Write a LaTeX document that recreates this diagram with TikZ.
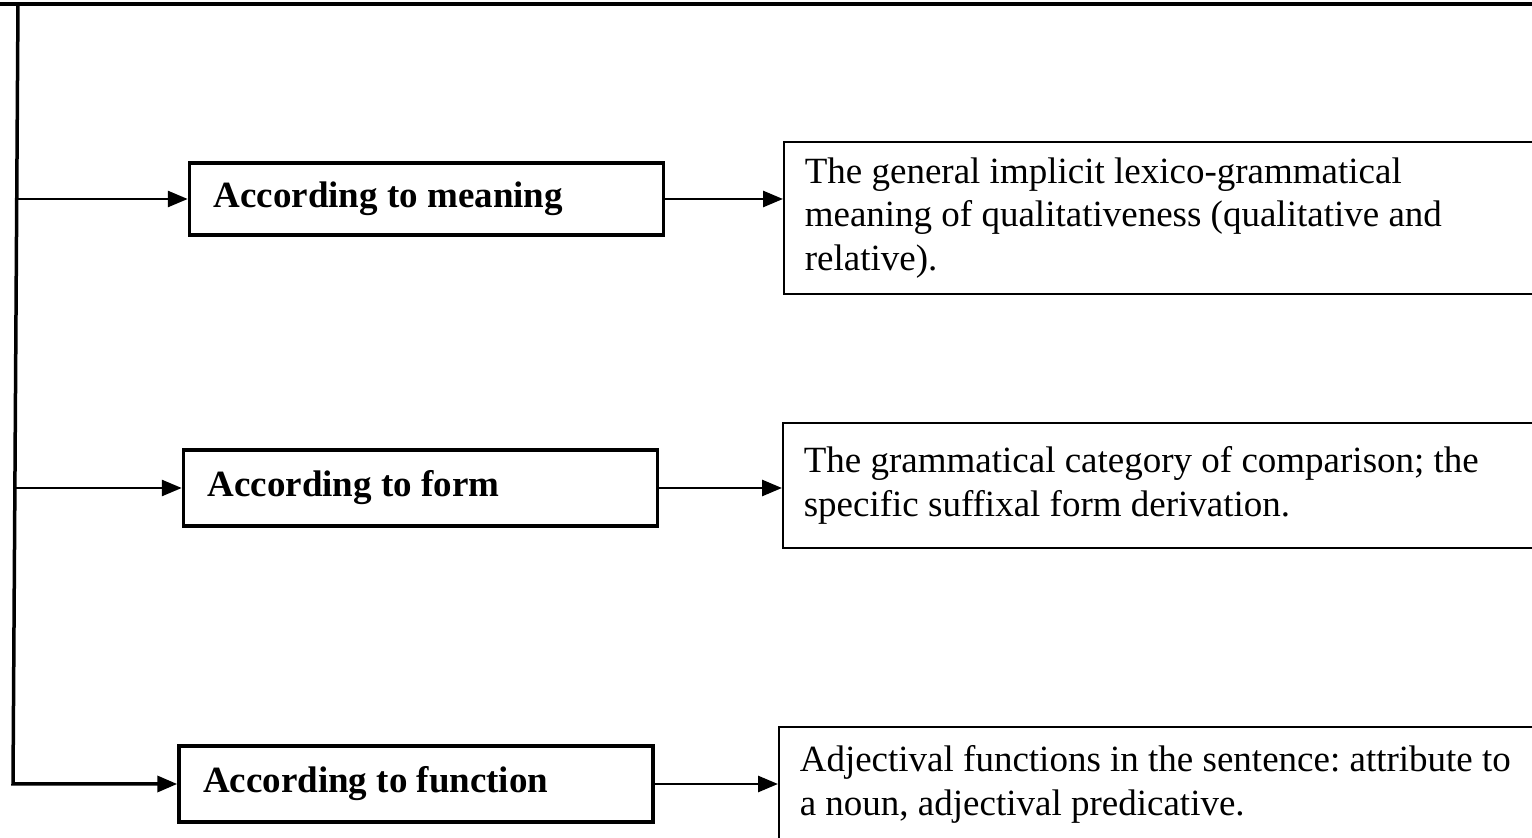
\documentclass[tikz,border=0pt]{standalone}
\usepackage{fontspec}
\setmainfont{Liberation Serif}
\usetikzlibrary{arrows.meta}

\begin{document}
\begin{tikzpicture}[x=0.5pt,y=-0.5pt,
  every node/.style={font=\fontsize{18.5pt}{21.75pt}\selectfont,
    execute at begin node={\frenchspacing\spaceskip=0pt\xspaceskip=0pt\relax}},
  headbox/.style={draw,line width=1.75pt,minimum width=237pt,minimum height=38pt,
    text width=213pt,inner xsep=12pt,inner ysep=0pt,align=left,
    font=\fontsize{18.5pt}{21.75pt}\selectfont\bfseries},
  notebox/.style={draw,line width=0.8pt,anchor=north west,text width=380pt,
    inner xsep=10.5pt,inner ysep=0pt,align=left},
  arr/.style={line width=1.4pt,-{Triangle[length=10pt,width=8pt]}},
  rule/.style={line width=1.75pt}]

\clip (0,0) rectangle (1532,838);

% top rule
\draw[rule] (-5,4)--(1540,4);

% left boxes
\node[headbox,minimum height=36pt] (meaning) at (426.5,199) {According to meaning};
\node[headbox] (form) at (420.5,488) {According to form};
\node[headbox] (function) at (416,784) {According to function};

% right boxes
\node[notebox,minimum height=76pt] (meaningnote) at (783,141)
  {The general implicit lexico-grammatical\\ meaning of qualitativeness (qualitative and\\ relative).};
\node[notebox,minimum height=62.5pt] (formnote) at (782,422)
  {The grammatical category of comparison; the\\ specific suffixal form derivation.};
\node[notebox,minimum height=57.5pt] (functionnote) at (778,726)
  {Adjectival functions in the sentence: attribute to\\ a noun, adjectival predicative.};

% spine
\coordinate (s0) at (18,2.5);
\coordinate (s1) at (13,784);
\coordinate (j1) at (16.8,199);
\coordinate (j2) at (14.9,488);
\draw[arr,line width=1.75pt] (s0) -- (s1) -- (function.west);
\draw[arr] (j1) -- (meaning.west);
\draw[arr] (j2) -- (form.west);

\draw[arr] (meaning.east) -- (meaning.east -| meaningnote.west);
\draw[arr] (form.east) -- (form.east -| formnote.west);
\draw[arr] (function.east) -- (function.east -| functionnote.west);

\end{tikzpicture}
\end{document}
